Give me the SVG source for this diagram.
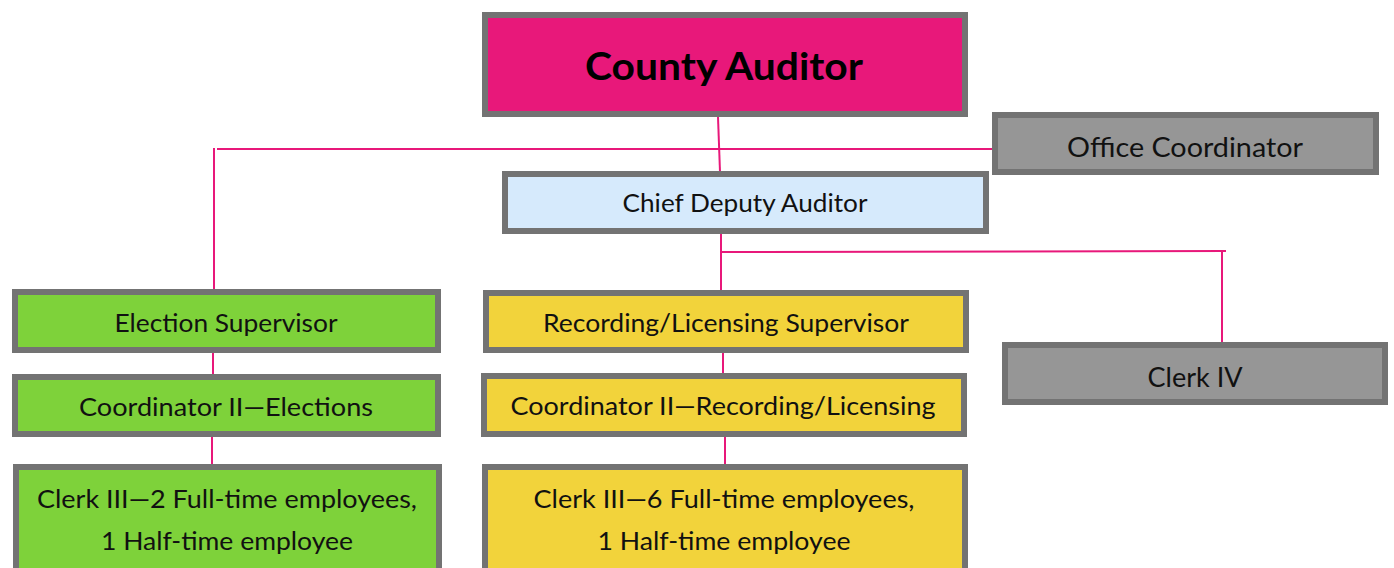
<svg xmlns="http://www.w3.org/2000/svg" width="1394" height="568" viewBox="0 0 1394 568">
<style>
.box{stroke:#737373;stroke-width:6}
.pink{fill:#e8187a}
.blue{fill:#d6eafc}
.gray{fill:#969696}
.green{fill:#7ed23a}
.yellow{fill:#f2d33b}
text{font-family:Lato,"Open Sans","Liberation Sans",sans-serif;font-size:25px;fill:#111;text-anchor:middle}
.big{font-size:27px}
.title{font-weight:bold;font-size:38px;fill:#000}
.conn line{stroke:#e8187a;stroke-width:2}
</style>
<rect width="1394" height="568" fill="#fff"/>
<g class="conn">
<line x1="718" y1="117" x2="720" y2="172"/>
<line x1="217" y1="149" x2="993" y2="149"/>
<line x1="214" y1="148" x2="214" y2="290"/>
<line x1="721" y1="233" x2="721" y2="291"/>
<line x1="721" y1="252" x2="1226" y2="251"/>
<line x1="1222" y1="252" x2="1222" y2="343"/>
<line x1="723" y1="352" x2="723" y2="374"/>
<line x1="725" y1="436" x2="725" y2="465"/>
<line x1="213" y1="352" x2="213" y2="375"/>
<line x1="212" y1="436" x2="212" y2="465"/>
</g>
<g id="county-auditor"><rect class="box pink" x="485" y="15" width="480" height="99"/><text class="title" x="724" y="80" textLength="278" lengthAdjust="spacingAndGlyphs">County Auditor</text></g>
<g id="chief-deputy"><rect class="box blue" x="505" y="174" width="481" height="57"/><text x="745" y="212" textLength="245" lengthAdjust="spacingAndGlyphs">Chief Deputy Auditor</text></g>
<g id="office-coordinator"><rect class="box gray" x="995" y="115" width="381" height="57"/><text class="big" x="1185" y="157" textLength="236" lengthAdjust="spacingAndGlyphs">Office Coordinator</text></g>
<g id="clerk-iv"><rect class="box gray" x="1005" y="345" width="380" height="57"/><text class="big" x="1195" y="387" textLength="95" lengthAdjust="spacingAndGlyphs">Clerk IV</text></g>
<g id="election-supervisor"><rect class="box green" x="15" y="292" width="423" height="58"/><text x="226" y="332" textLength="223" lengthAdjust="spacingAndGlyphs">Election Supervisor</text></g>
<g id="coordinator-elections"><rect class="box green" x="15" y="377" width="423" height="57"/><text x="226" y="416" textLength="294" lengthAdjust="spacingAndGlyphs">Coordinator II—Elections</text></g>
<g id="clerk-iii-elections"><rect class="box green" x="16" y="467" width="423" height="110"/><text x="227" y="508" textLength="380" lengthAdjust="spacingAndGlyphs">Clerk III—2 Full-time employees,</text><text x="227" y="550" textLength="252" lengthAdjust="spacingAndGlyphs">1 Half-time employee</text></g>
<g id="recording-supervisor"><rect class="box yellow" x="486" y="293" width="480" height="57"/><text x="726" y="332" textLength="366" lengthAdjust="spacingAndGlyphs">Recording/Licensing Supervisor</text></g>
<g id="coordinator-recording"><rect class="box yellow" x="484" y="376" width="480" height="58"/><text x="723" y="415" textLength="425" lengthAdjust="spacingAndGlyphs">Coordinator II—Recording/Licensing</text></g>
<g id="clerk-iii-recording"><rect class="box yellow" x="485" y="467" width="480" height="110"/><text x="724" y="508" textLength="381" lengthAdjust="spacingAndGlyphs">Clerk III—6 Full-time employees,</text><text x="724" y="550" textLength="253" lengthAdjust="spacingAndGlyphs">1 Half-time employee</text></g>
</svg>
